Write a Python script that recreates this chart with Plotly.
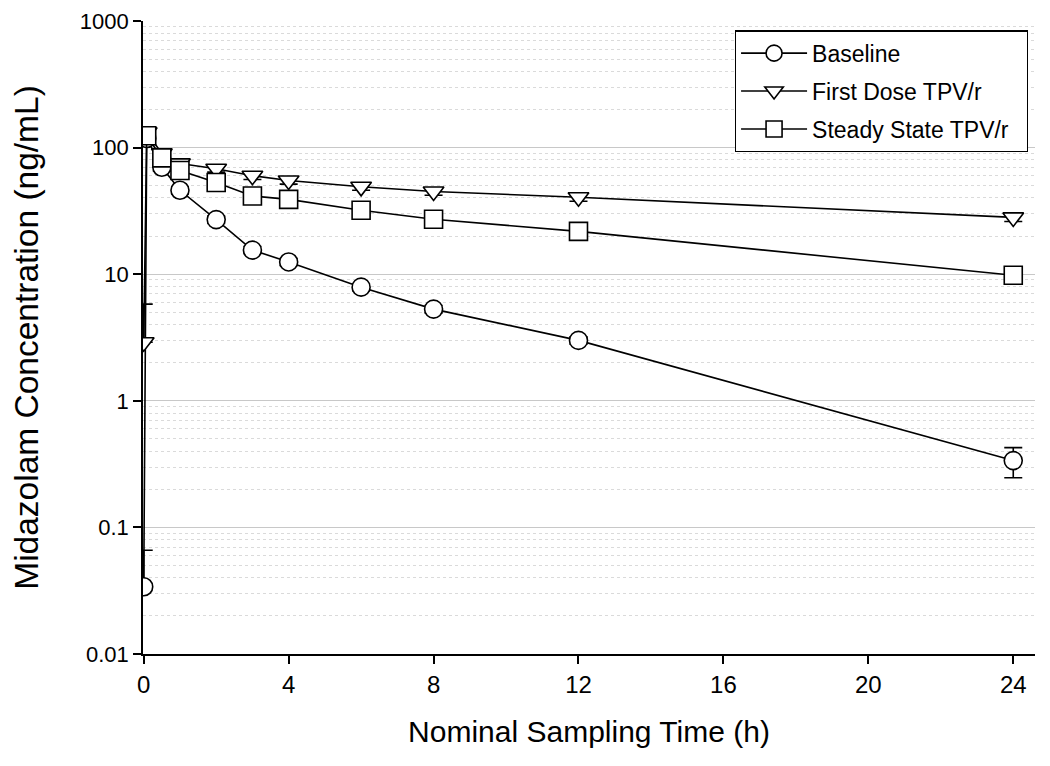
import plotly.graph_objects as go

time_h = [0, 0.083, 0.5, 1, 2, 3, 4, 6, 8, 12, 24]

baseline = [0.034, 118, 70, 46, 27, 15.5, 12.5, 7.9, 5.3, 3.0, 0.337]
baseline_err_up = [0.032, 12, 5, 3, 1.8, 1.0, 0.8, 0.5, 0.35, 0.2, 0.09]
baseline_err_down = [0, 12, 5, 3, 1.8, 1.0, 0.8, 0.5, 0.35, 0.2, 0.09]

first_dose = [2.9, 132, 90, 75, 68, 60, 55, 49, 45, 40.5, 28.1]
first_dose_err_up = [2.9, 12, 6, 5, 4, 4, 3.5, 3, 3, 2.8, 2]
first_dose_err_down = [0, 12, 6, 5, 4, 4, 3.5, 3, 3, 2.8, 2]

steady_time_h = [0.083, 0.5, 1, 2, 3, 4, 6, 8, 12, 24]
steady = [124, 83, 66, 53, 41.5, 39, 32, 27.2, 21.8, 9.8]
steady_err = [12, 5, 4, 3.5, 2.5, 2.5, 2, 1.8, 1.5, 0.7]

x_ticks = [0, 4, 8, 12, 16, 20, 24]
y_ticks = [0.01, 0.1, 1, 10, 100, 1000]
y_tick_labels = ["0.01", "0.1", "1", "10", "100", "1000"]

FONT = "Liberation Sans, Arial, sans-serif"
PAD = "\u00a0\u00a0"

def trace(name, x, y, err_up, err_down, symbol, group):
    return go.Scatter(
        x=x, y=y, name=name + PAD, mode="lines+markers",
        legendgroup=group,
        line=dict(color="black", width=1.6),
        marker=dict(symbol=symbol, size=18, color="white",
                    line=dict(color="black", width=1.6)),
        error_y=dict(type="data", symmetric=False, array=err_up,
                     arrayminus=err_down, visible=True,
                     color="black", thickness=1.6, width=9),
    )

fig = go.Figure()
fig.add_trace(trace("Baseline", time_h, baseline, baseline_err_up, baseline_err_down, "circle", "a"))
fig.add_trace(trace("First Dose TPV/r", time_h, first_dose, first_dose_err_up, first_dose_err_down, "triangle-down", "b"))
fig.add_trace(trace("Steady State TPV/r", steady_time_h, steady, steady_err, steady_err, "square", "c"))

fig.update_layout(
    width=1050, height=766,
    margin=dict(l=135, r=23, t=13, b=120),
    paper_bgcolor="white", plot_bgcolor="white",
    font=dict(family=FONT, color="black", size=22),
    showlegend=True,
    legend=dict(
        x=0.992, y=0.985, xanchor="right", yanchor="top",
        bgcolor="white", bordercolor="black", borderwidth=1.2,
        font=dict(size=23, family=FONT),
        tracegroupgap=5, itemwidth=66,
    ),
)

fig.update_xaxes(
    range=[-0.02, 24.6], automargin=False,
    tickmode="array", tickvals=x_ticks, ticktext=[str(t) for t in x_ticks],
    ticks="outside", ticklen=8, tickwidth=1.5, tickcolor="black",
    showline=True, linecolor="black", linewidth=2,
    showgrid=False, zeroline=False,
    tickfont=dict(size=24),
    title=dict(text="Nominal Sampling Time (h)", font=dict(size=30), standoff=24),
)

fig.update_yaxes(
    type="log", range=[-2, 3], automargin=False,
    ticklabeloverflow="allow",
    tickmode="array", tickvals=y_ticks, ticktext=y_tick_labels,
    ticks="outside", ticklen=8, tickwidth=1.5, tickcolor="black",
    showline=True, linecolor="black", linewidth=1.6,
    showgrid=True, gridcolor="#c8c8c8", gridwidth=1,
    zeroline=False,
    minor=dict(dtick="D1", showgrid=True, gridcolor="#dadada",
               griddash="dot", gridwidth=1, ticks=""),
    tickfont=dict(size=22),
    title=dict(text="Midazolam Concentration (ng/mL)", font=dict(size=33.5), standoff=33),
)

fig.write_html("out.html")
